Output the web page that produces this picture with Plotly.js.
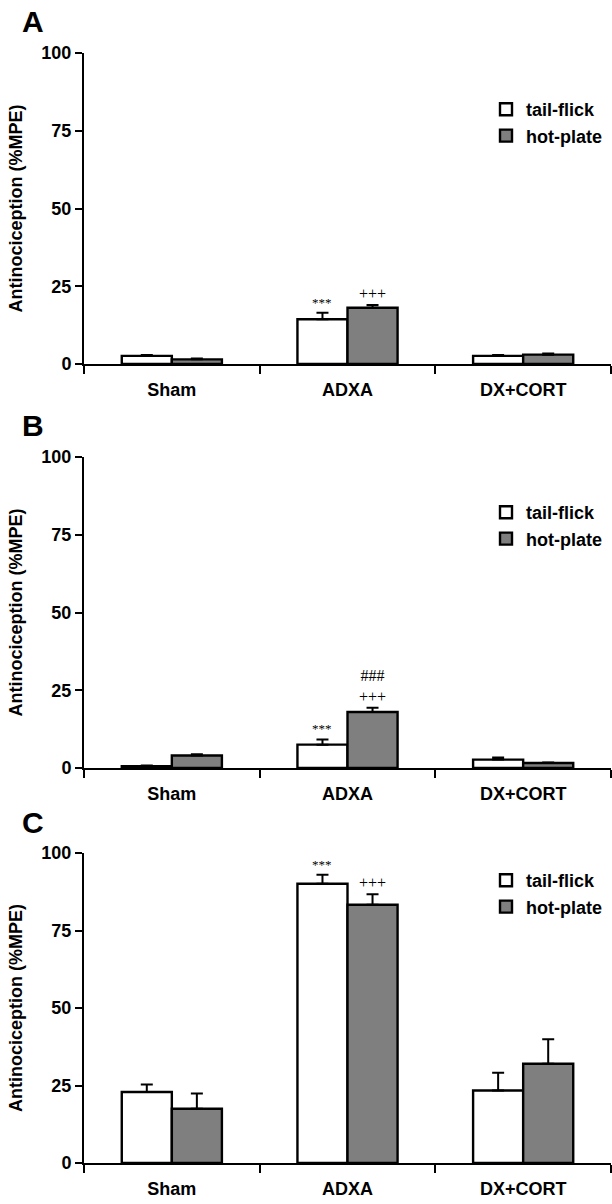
<!DOCTYPE html>
<html>
<head>
<meta charset="utf-8">
<script src="https://cdn.plot.ly/plotly-3.0.1.min.js"></script>
<style>html,body{margin:0;padding:0;background:#fff;}#chart{width:612px;height:1204px;}</style>
</head>
<body>
<div id="chart"></div>
<script>
// ---- data ----
const categories = ['Sham', 'ADXA', 'DX+CORT'];
const seriesNames = ['tail-flick', 'hot-plate'];
const panelLetters = ['A', 'B', 'C'];
const yTicks = [0, 25, 50, 75, 100];

const tailA = [2.6, 14.4, 2.6];
const tailAErr = [0.3, 2.1, 0.3];
const hotA = [1.5, 18.1, 3.0];
const hotAErr = [0.3, 0.9, 0.4];

const tailB = [0.6, 7.5, 2.7];
const tailBErr = [0.2, 1.7, 0.7];
const hotB = [4.0, 18.0, 1.6];
const hotBErr = [0.4, 1.4, 0.2];

const tailC = [22.9, 90.1, 23.4];
const tailCErr = [2.4, 2.9, 5.7];
const hotC = [17.5, 83.3, 32.0];
const hotCErr = [4.9, 3.4, 7.9];

const tailASig = ['', '***', ''];
const hotASig = ['', '+++', ''];
const tailBSig = ['', '***', ''];
const hotBSig = ['', '###<br>+++', ''];
const tailCSig = ['', '***', ''];
const hotCSig = ['', '+++', ''];

// ---- build ----
const panels = [
  {tail: tailA, tailErr: tailAErr, hot: hotA, hotErr: hotAErr, tailSig: tailASig, hotSig: hotASig},
  {tail: tailB, tailErr: tailBErr, hot: hotB, hotErr: hotBErr, tailSig: tailBSig, hotSig: hotBSig},
  {tail: tailC, tailErr: tailCErr, hot: hotC, hotErr: hotCErr, tailSig: tailCSig, hotSig: hotCSig}
];

const H = 1204;
const ML = 84, PW = 527;
const pxDomains = [[53, 364], [457, 768], [853, 1163]];
const legendTops = [91, 494, 862];
const BARGAP = 0.43;
const barOffset = (1 - BARGAP) / 4;

const sans = 'Liberation Sans, Arial, sans-serif';
const serif = 'Liberation Serif, Times New Roman, serif';

const traces = [];
const annotations = [];
const layout = {
  width: 612, height: H,
  margin: {l: ML, r: 1, t: 0, b: 0},
  paper_bgcolor: '#fff', plot_bgcolor: '#fff',
  barmode: 'group', bargap: BARGAP, bargroupgap: 0,
  annotations: annotations,
  font: {family: sans, color: '#000'}
};

panels.forEach((p, i) => {
  const sfx = i === 0 ? '' : String(i + 1);
  const xa = 'x' + sfx, ya = 'y' + sfx;
  const legName = 'legend' + sfx;
  const zeros = categories.map(() => 0);
  const mk = (name, vals, errs, color) => ({
    type: 'bar', name: name, x: categories, y: vals,
    xaxis: xa, yaxis: ya, legend: legName,
    marker: {color: color, line: {color: '#000', width: 2.4}},
    error_y: {type: 'data', symmetric: false, array: errs, arrayminus: zeros,
              color: '#000', thickness: 2, width: 6},
    hoverinfo: 'x+y'
  });
  traces.push(mk(seriesNames[0], p.tail, p.tailErr, '#ffffff'));
  traces.push(mk(seriesNames[1], p.hot, p.hotErr, '#7f7f7f'));

  const d = pxDomains[i];
  layout['xaxis' + sfx] = {
    domain: [0, 1], anchor: ya, type: 'category', range: [-0.5, 2.5],
    tickson: 'boundaries', ticks: 'outside', ticklen: 8, tickwidth: 2, tickcolor: '#000',
    showline: true, linewidth: 2, linecolor: '#000', showgrid: false, zeroline: false,
    ticklabelstandoff: 8,
    tickfont: {family: sans, size: 18, weight: 'bold', color: '#000'}
  };
  layout['yaxis' + sfx] = {
    domain: [1 - d[1] / H, 1 - d[0] / H], anchor: xa, range: [0, 100],
    tickvals: yTicks, ticktext: yTicks.map(String),
    ticks: 'outside', ticklen: 7, tickwidth: 2, tickcolor: '#000',
    showline: true, linewidth: 2, linecolor: '#000', showgrid: false, zeroline: false,
    tickfont: {family: sans, size: 18, weight: 'bold', color: '#000'},
    title: {text: 'Antinociception (%MPE)', standoff: 14,
            font: {family: sans, size: 18, weight: 'bold', color: '#000'}}
  };
  layout[legName] = {
    x: (486 - ML) / PW, xref: 'paper', xanchor: 'left',
    y: 1 - legendTops[i] / H, yref: 'paper', yanchor: 'top',
    bgcolor: 'rgba(0,0,0,0)', borderwidth: 0,
    font: {family: sans, size: 18, weight: 'bold', color: '#000'},
    itemclick: false, itemdoubleclick: false
  };

  annotations.push({
    xref: 'paper', yref: 'paper', x: (20 - ML) / PW, y: 1 - (d[0] - 31) / H,
    xanchor: 'left', yanchor: 'middle', showarrow: false,
    text: panelLetters[i], font: {family: sans, size: 30, weight: 'bold', color: '#000'}
  });

  const addSig = (labels, vals, errs, off, size) => {
    labels.forEach((t, k) => {
      if (!t) return;
      annotations.push({
        xref: xa, yref: ya, x: k + off, y: vals[k] + errs[k],
        xanchor: 'center', yanchor: 'bottom', showarrow: false, yshift: 1,
        text: t, font: {family: serif, size: size, color: '#000'}
      });
    });
  };
  addSig(p.tailSig, p.tail, p.tailErr, -barOffset, 13);
  addSig(p.hotSig, p.hot, p.hotErr, barOffset, 16);
});

Plotly.newPlot('chart', traces, layout, {displayModeBar: false, staticPlot: true});
</script>
</body>
</html>
